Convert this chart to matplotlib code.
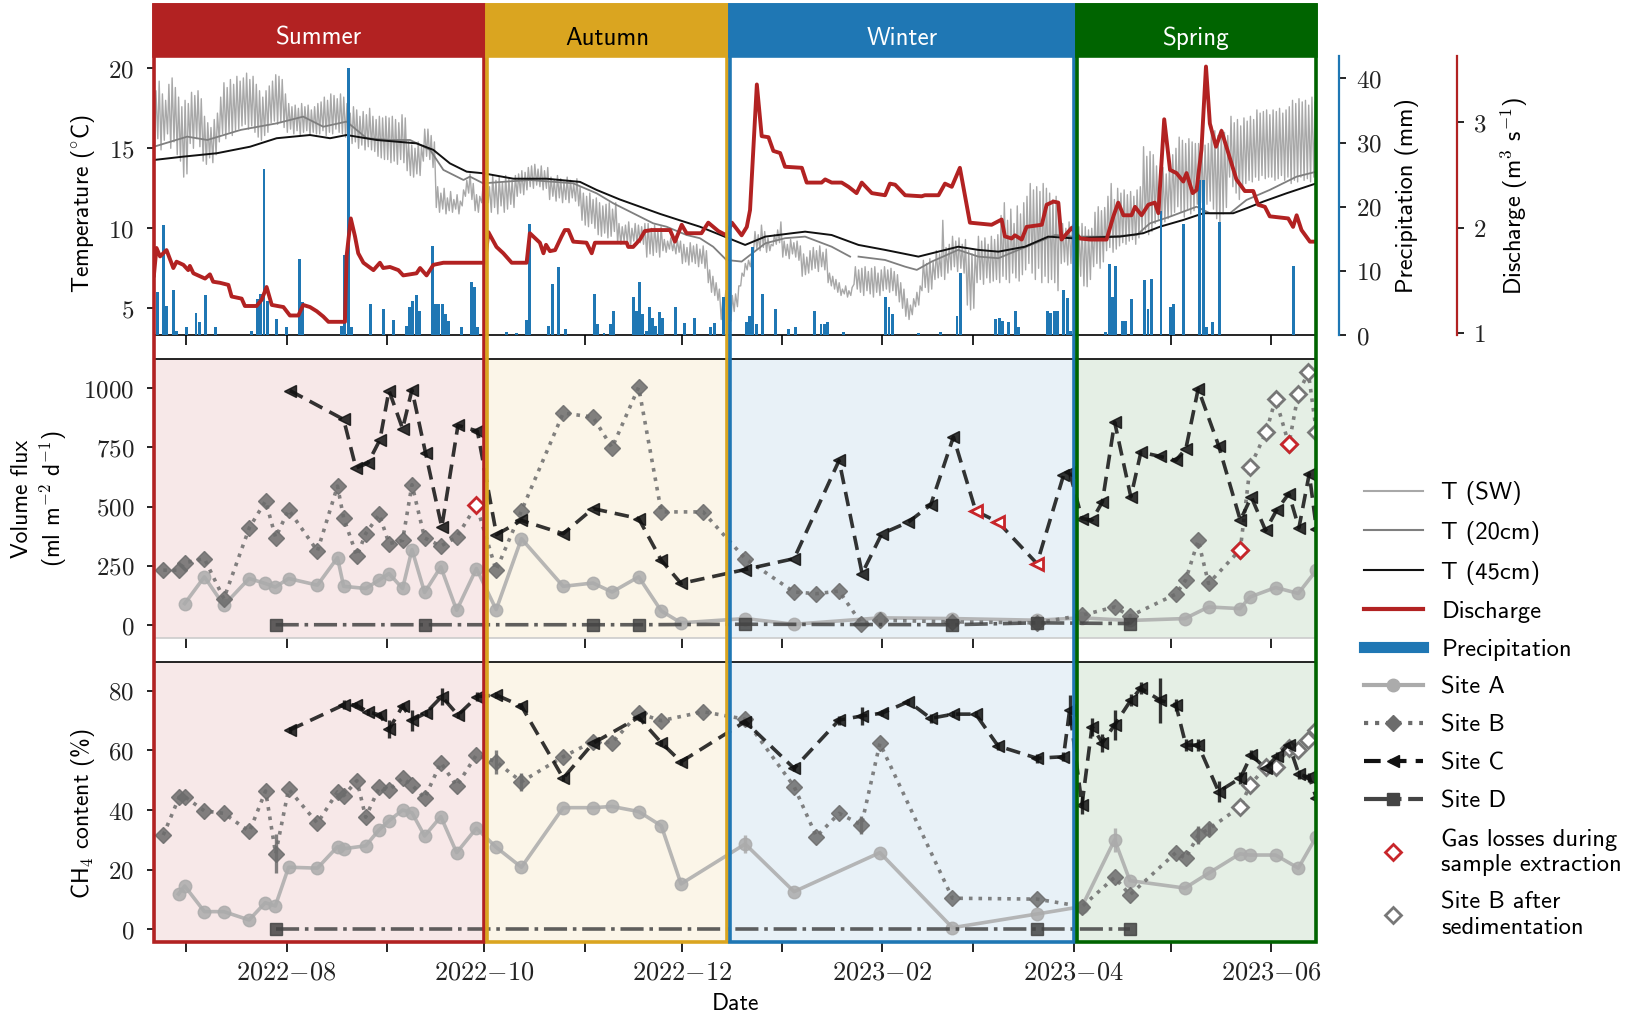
import numpy as np
import pandas as pd
import matplotlib
matplotlib.use("Agg")
import matplotlib.pyplot as plt
import matplotlib.dates as mdates
from matplotlib.lines import Line2D
from matplotlib.patches import Rectangle
from matplotlib.ticker import FuncFormatter

plt.rcParams['font.family'] = ['cmss10', 'DejaVu Sans']
plt.rcParams['mathtext.fontset'] = 'cm'
plt.rcParams['axes.unicode_minus'] = False

# ---------------- data (days are counted from 2022-08-01) ----------------
t0 = pd.Timestamp('2022-08-01')

seasons = ['Summer', 'Autumn', 'Winter', 'Spring']
season_start = [-41, 62, 137, 244]
season_end = [61, 136, 243, 318]
season_colors = ['#b22222', '#daa520', '#1f77b4', '#006400']
season_text = ['white', 'black', 'white', 'white']

# surface water temperature, daily max / min from 2022-06-21
tsw_max = [
    18.6, 19.2, 18.4, 18.0, 19.0, 19.4, 18.8, 18.2, 17.6, 18.0,
    # Jul
    17.8, 18.5, 18.3, 18.6, 18.1, 17.0, 16.6, 16.3, 16.8, 17.2,
    18.2, 19.1, 18.8, 19.3, 19.0, 19.5, 19.2, 19.4, 19.7, 19.3,
    19.5, 19.0, 18.6, 18.2, 18.6, 18.9, 19.2, 19.6, 19.5, 19.3, 18.4,
    # Aug
    17.8, 17.6, 17.7, 17.5, 17.8, 17.6, 17.7, 17.4, 17.6, 17.8,
    17.9, 18.2, 18.0, 18.4, 18.3, 18.1, 18.4, 18.2, 17.8, 17.2,
    17.6, 17.4, 17.0, 17.3, 17.1, 17.5, 17.0, 16.8, 17.0, 16.9, 17.0,
    # Sep
    16.9, 17.0, 16.8, 16.6, 17.1, 16.9, 15.4, 15.2, 15.0, 15.4,
    15.1, 16.2, 16.2, 15.8, 15.4, 12.6, 12.2, 12.5, 11.9, 12.3,
    11.8, 12.1, 11.7, 12.4, 13.0, 13.4, 12.8, 12.1, 12.0, 12.6,
    # Oct
    12.8, 12.6, 13.3, 13.0, 13.2, 12.9, 13.3, 13.1, 13.0, 13.3,
    13.4, 13.6, 13.5, 13.8, 13.9, 14.0, 13.7, 13.9, 13.6, 13.8,
    13.2, 13.0, 13.3, 13.1, 12.9, 13.2, 13.0, 12.8, 13.1, 12.6, 12.2,
    # Nov
    12.0, 12.2, 11.8, 11.9, 11.6, 11.4, 11.5, 11.6, 11.2, 11.6,
    10.3, 10.1, 10.2, 10.4, 10.0, 10.3, 10.2, 10.1, 10.3, 10.3,
    10.0, 10.2, 9.9, 10.1, 9.3, 9.2, 9.4, 9.1, 9.3, 9.2,
    # Dec
    9.0, 8.8, 9.1, 8.9, 9.0, 8.7, 8.9, 8.6, 7.4, 7.0,
    6.6, 6.2, 5.4, 6.1, 6.0, 5.8, 5.9, 6.4, 7.2, 7.8,
    8.0, 8.2, 9.8, 9.6, 10.2, 9.8, 9.4, 9.0, 9.6, 9.9, 10.4,
    # Jan
    9.2, 9.0, 9.3, 9.1, 9.2, 8.9, 8.4, 8.2, 8.6, 8.8,
    8.6, 8.9, 8.5, 8.7, 7.2, 7.0, 6.8, 6.6, 6.2, 6.4,
    6.1, 6.3, 7.6, 7.4, 7.5, 7.6, 7.3, 7.5, 7.6, 7.2, 7.4,
    # Feb
    7.6, 7.4, 7.5, 7.3, 7.1, 6.6, 6.2, 5.6, 5.2, 5.6,
    6.0, 6.4, 8.0, 7.8, 8.1, 7.9, 8.6, 8.4, 10.5, 8.8,
    9.0, 9.5, 9.2, 9.4, 9.0, 9.3, 8.6, 8.4,
    # Mar
    8.6, 9.5, 9.2, 9.4, 9.0, 9.5, 9.3, 9.6, 10.8, 11.6,
    10.5, 11.2, 10.3, 11.4, 10.9, 11.6, 12.0, 12.8, 12.4, 12.6,
    12.3, 12.8, 12.5, 12.2, 11.8, 12.0, 11.6, 10.3, 10.0, 10.4, 10.2,
    # Apr
    10.4, 10.1, 10.3, 10.1, 9.9, 10.0, 11.0, 11.35, 11.1, 11.3,
    12.0, 12.8, 11.8, 12.5, 12.2, 12.4, 12.1, 12.3, 12.0, 12.4,
    12.6, 15.1, 14.5, 14.8, 14.6, 13.9, 13.6, 13.8, 13.4, 13.9,
    # May
    14.6, 15.0, 15.7, 15.5, 15.3, 15.6, 15.4, 15.3, 15.3, 15.0,
    15.2, 15.3, 16.4, 16.1, 15.8, 16.2, 16.0, 15.8, 17.0, 16.6,
    16.8, 16.4, 16.9, 16.7, 17.0, 16.8, 17.4, 17.2, 17.3, 17.4, 17.1,
    # Jun
    17.4, 17.3, 17.5, 17.2, 17.4, 17.6, 18.0, 17.8, 18.1, 17.9,
    18.0, 17.7, 18.2, 17.9, 18.0,
]
tsw_min = [
    15.2, 15.6, 14.9, 15.5, 15.9, 15.0, 15.4, 14.6, 14.2, 13.2,
    # Jul
    13.4, 15.3, 15.0, 15.6, 15.1, 14.2, 14.0, 14.4, 14.1, 14.6,
    15.4, 15.9, 15.6, 16.0, 15.8, 16.1, 16.2, 16.4, 16.5, 16.2,
    16.4, 16.0, 15.7, 15.5, 15.8, 16.0, 16.6, 16.7, 16.5, 16.6, 16.3,
    # Aug
    16.0, 16.2, 15.9, 16.1, 15.8, 16.0, 16.1, 15.8, 16.0, 15.9,
    15.9, 16.1, 15.8, 16.0, 15.9, 16.2, 16.0, 15.9, 15.7, 15.6,
    15.3, 15.4, 15.0, 15.2, 14.9, 15.1, 14.9, 14.8, 14.5, 14.4, 14.3,
    # Sep
    14.3, 14.1, 14.2, 14.0, 14.3, 14.1, 13.6, 13.3, 13.2, 13.4,
    13.3, 14.2, 14.5, 14.3, 13.8, 11.3, 11.0, 11.2, 10.9, 11.1,
    11.0, 11.2, 10.9, 11.4, 12.0, 12.2, 11.8, 11.1, 11.0, 11.6,
    # Oct
    11.8, 11.6, 11.0, 11.3, 10.9, 11.4, 11.0, 11.2, 11.5, 11.3,
    12.0, 12.2, 12.1, 12.4, 12.6, 12.5, 12.7, 12.6, 12.4, 12.5,
    11.8, 12.0, 11.7, 11.9, 11.6, 11.8, 11.6, 11.9, 11.7, 11.4, 10.5,
    # Nov
    10.2, 10.1, 10.3, 10.0, 9.6, 9.5, 9.7, 9.4, 9.5, 9.8,
    9.1, 9.0, 9.2, 9.1, 8.9, 9.2, 9.0, 9.1, 9.0, 8.2,
    8.4, 8.3, 8.5, 8.2, 8.6, 8.5, 8.7, 8.6, 8.4, 8.5,
    # Dec
    7.8, 7.9, 7.7, 7.9, 7.8, 7.6, 7.8, 7.5, 6.6, 6.0,
    5.8, 5.5, 4.3, 5.1, 4.6, 4.2, 4.8, 5.1, 6.4, 7.0,
    7.4, 7.6, 8.6, 8.7, 8.6, 8.8, 8.5, 8.6, 8.9, 9.0, 9.1,
    # Jan
    8.2, 8.3, 8.1, 8.4, 8.2, 8.0, 7.0, 7.1, 7.2, 7.4,
    7.5, 7.3, 7.6, 7.4, 6.6, 6.4, 6.2, 6.0, 5.8, 5.9,
    5.7, 5.8, 6.5, 6.2, 6.0, 5.8, 6.1, 5.9, 5.7, 6.0, 5.8,
    # Feb
    6.1, 6.2, 6.0, 6.1, 5.8, 5.4, 5.0, 4.5, 4.3, 4.6,
    5.1, 5.2, 6.1, 6.3, 6.0, 6.2, 6.8, 6.9, 7.0, 6.8,
    7.2, 7.4, 7.6, 7.3, 7.5, 7.2, 5.2, 4.9,
    # Mar
    5.0, 6.6, 6.8, 6.5, 6.9, 6.6, 6.7, 6.8, 6.6, 7.0,
    6.8, 6.6, 7.2, 6.9, 6.7, 7.1, 7.4, 7.8, 7.2, 6.8,
    7.5, 6.6, 7.0, 6.6, 6.8, 6.6, 6.1, 7.8, 7.9, 7.7, 7.8,
    # Apr
    7.8, 7.6, 7.0, 6.4, 6.35, 6.8, 7.6, 7.8, 7.5, 7.9,
    8.6, 8.8, 8.5, 8.7, 8.9, 9.1, 9.0, 9.2, 9.3, 9.0,
    9.4, 9.7, 9.9, 9.6, 9.8, 10.3, 10.5, 10.2, 10.4, 10.6,
    # May
    10.8, 11.0, 11.35, 11.0, 10.7, 11.2, 10.9, 11.1, 11.5, 11.6,
    11.4, 11.5, 11.7, 11.2, 10.6, 10.3, 10.9, 11.3, 13.2, 12.6,
    12.2, 11.8, 12.5, 12.8, 13.0, 12.9, 13.2, 13.0, 13.3, 13.1, 13.2,
    # Jun
    13.2, 13.0, 13.1, 13.3, 13.0, 13.2, 12.8, 13.0, 12.9, 13.2,
    13.0, 13.1, 12.9, 13.2, 13.0,
]

t20_day = [-41, -30.7, -24.5, -14.2, -3.1, 5.1, 11.3, 18.5, 24.7, 31.9, 38.1, 44.3, 48.4,
           54.6, 56.6, 60.7, 67.9, 75.1, 88.5, 95.7, 100.9, 107, 113.2, 117.3, 123.5, 127.6,
           131.7, 135.8, 140.5, 147.8, 153.9, 160.1, 168.3, 174, 175.3, 176.6, 184.8, 191,
           194.6, 199.2, 207.4, 213.6, 219.8, 226, 231.1, 237.3, 242.4, 252.2, 262.5, 266.6,
           272.8, 281, 285.1, 291.3, 296.4, 303.6, 311.9, 318]
t20_val = [15.1, 15.73, 15.52, 16.15, 16.56, 16.98, 16.35, 16.67, 15.63, 15.52, 15.52, 14.9, 13.65,
           13.02, 13.23, 12.81, 12.92, 13.02, 12.81, 12.19, 11.56, 10.94, 10.31, 10.1, 9.58, 9.38,
           8.85, 8.02, 7.92, 9.06, 9.38, 9.48, 8.85, 8.23, np.nan, 8.23, 8.02, 7.6,
           7.4, 7.92, 8.65, 8.23, 8.13, 8.65, 9.06, 9.58, 9.48, 9.48, 9.58, 10.31,
           10.73, 11.35, 10.94, 10.94, 11.77, 12.4, 13.23, 13.54]

t45_day = [-41, -31.9, -21.6, -11.3, -3.1, 7.2, 13.4, 18.5, 27.8, 40.1, 45.3, 50.4, 55.6, 60.7,
           70, 80.3, 90.6, 95.7, 102.9, 109.1, 115.3, 121.4, 127.6, 135.6, 141.6, 147.8, 156,
           160.1, 168.3, 176.6, 184.8, 195.1, 207.4, 213.6, 219.8, 228, 235.2, 242.4, 257.3,
           264.5, 269.7, 276.9, 283.1, 292.3, 296.4, 301.6, 308.8, 318]
t45_val = [14.27, 14.48, 14.69, 15.1, 15.63, 15.83, 15.63, 15.83, 15.52, 15.31, 14.9, 14.06, 13.54, 13.44,
           13.1, 13.1, 12.9, 12.4, 11.8, 11.35, 10.9, 10.5, 10.1, 9.45, 8.96, 9.48, 9.69,
           9.79, 9.58, 8.96, 8.65, 8.23, 8.85, 8.65, 8.54, 8.85, 9.48, 9.38, 9.48,
           9.69, 10.1, 10.52, 10.94, 10.94, 11.25, 11.67, 12.19, 12.81]

p_day = [-40, -38, -37, -35, -34, -31, -28, -27, -25, -22, -11, -9, -8, -7, -6, -3, 0, 4, 5, 17,
         18, 19, 20, 26, 30, 33, 37, 38, 39, 40, 41, 45, 46, 47, 48, 49, 50, 54, 57, 58, 59,
         68, 71, 74, 75, 81, 82, 84, 86, 95, 96, 98, 100, 101, 107, 108, 109, 110, 111, 112,
         113, 114, 115, 116, 120, 123, 126, 131, 132, 135,
         142, 143, 144, 145, 147, 151, 155, 157, 163, 165, 166, 167, 172, 185, 186, 187, 195,
         202, 207, 208, 219, 220, 221, 223, 225, 226, 235, 236, 237, 238, 240, 241, 242,
         253, 254, 255, 256, 258, 259, 261, 265, 266, 267, 270, 273, 274, 277, 282, 283, 284,
         286, 288, 311]
p_mm = [6.7, 17.1, 4.5, 7.0, 0.7, 1.2, 3.5, 2.0, 6.2, 1.3, 0.7, 5.6, 6.4, 25.9, 5.3, 2.5, 1.3, 11.8, 5.1, 1.4,
        12.4, 41.6, 1.2, 4.8, 4.0, 2.4, 1.4, 4.3, 5.3, 6.2, 3.8, 13.9, 4.8, 4.8, 4.8, 3.3, 2.2, 1.2, 8.2, 7.5, 1.2,
        0.4, 0.3, 2.3, 17.3, 1.4, 7.9, 10.6, 0.9, 6.4, 1.7, 0.3, 1.7, 3.8, 5.9, 3.8, 8.3, 3.3, 0.7, 4.3,
        2.7, 1.4, 3.6, 2.7, 4.3, 1.9, 2.7, 1.3, 1.9, 5.9,
        2.0, 3.0, 13.7, 1.7, 6.4, 4.0, 0.9, 1.2, 3.8, 1.7, 1.7, 2.0, 0.4, 5.9, 4.3, 3.3, 0.3,
        0.4, 3.0, 9.7, 2.5, 2.7, 2.2, 2.0, 3.8, 1.2, 3.8, 3.5, 3.8, 3.8, 7.0, 5.7, 0.7,
        0.4, 11.1, 5.9, 10.8, 2.2, 2.2, 5.6, 8.5, 4.0, 8.7, 19.4, 4.3, 4.8, 17.3, 24.1, 24.1, 1.3,
        2.1, 17.6, 10.7]

q_day = [-41, -40.2, -39.1, -38.1, -37.1, -35.0, -34.0, -31.9, -30.4, -29.9, -28.8, -25.2, -23.7, -22.7,
         -20.6, -18.0, -17.0, -13.9, -12.9, -9.3, -7.7, -6.2, -4.6, -1.0, 1.0, 3.6, 5.1, 7.2, 9.3, 11.3,
         12.9, 18.0, 18.5, 19.8, 21.1, 22.1, 23.7, 26.8, 28.8, 29.8, 31.9, 34.5, 36.0, 40.1, 41.2, 43.2,
         45.3, 48.4, 49.4, 60.7,
         61.2, 62.3, 64.8, 66.9, 69.5, 74.1, 75.1, 78.2, 79.3, 80.1, 81.3, 82.9, 84.9, 85.9, 87.0, 88.5,
         92.6, 94.2, 95.2, 105.0, 105.5, 107.0, 109.1, 110.6, 112.7, 118.4, 119.9, 122.0, 123.5, 128.1,
         130.2, 133.3, 135.8,
         137.5, 140.5, 142.1, 143.1, 145.2, 146.7, 148.8, 150.3, 152.4, 153.9, 159.1, 160.6, 165.2, 166.3,
         168.3, 171.4, 173.5, 176.0, 177.6, 180.7, 184.8, 186.3, 187.9, 191.0, 196.1, 197.1, 201.3, 203.3,
         205.4, 207.9, 211.0, 217.7, 220.8, 221.8, 223.9, 224.9, 227.0, 228.5, 233.2, 234.7, 236.8, 238.3,
         239.3, 242.4,
         245.0, 248.1, 253.2, 255.3, 256.8, 258.4, 260.9, 262.0, 264.0, 266.1, 268.1, 269.2, 271.0, 272.8,
         274.8, 276.9, 277.9, 279.8, 281.0, 282.5, 283.9, 285.1, 287.0, 288.7, 290.8, 293.3, 295.9, 298.5,
         300.0, 302.1, 303.6, 309.3, 310.8, 311.9, 313.4, 316.0, 318.1]
q_val = [1.55, 1.81, 1.73, 1.76, 1.79, 1.62, 1.68, 1.65, 1.60, 1.64, 1.57, 1.52, 1.56, 1.49,
         1.48, 1.46, 1.35, 1.33, 1.26, 1.26, 1.32, 1.44, 1.27, 1.25, 1.17, 1.17, 1.27, 1.25, 1.21, 1.16,
         1.11, 1.11, 1.73, 2.09, 1.92, 1.76, 1.67, 1.60, 1.67, 1.62, 1.63, 1.60, 1.55, 1.57, 1.62, 1.55,
         1.65, 1.67, 1.67, 1.67,
         1.67, 1.96, 1.82, 1.76, 1.67, 1.67, 1.95, 1.86, 1.76, 1.84, 1.78, 1.79, 1.92, 1.98, 1.98, 1.87,
         1.86, 1.76, 1.86, 1.86, 1.82, 1.82, 1.89, 1.97, 1.98, 1.98, 1.87, 2.03, 1.95, 1.95,
         2.05, 1.97, 1.93,
         2.05, 1.93, 2.01, 2.17, 3.36, 2.87, 2.86, 2.73, 2.71, 2.58, 2.57, 2.43, 2.43, 2.46,
         2.43, 2.43, 2.39, 2.33, 2.43, 2.33, 2.31, 2.42, 2.41, 2.31, 2.30, 2.31, 2.31, 2.42,
         2.39, 2.57, 2.05, 2.03, 2.08, 1.92, 1.90, 1.93, 1.89, 2.01, 2.03, 2.22, 2.25, 2.24,
         1.89, 2.00,
         1.90, 1.89, 1.89, 2.11, 2.24, 2.12, 2.12, 2.20, 2.12, 2.22, 2.24, 2.14, 3.03, 2.55,
         2.52, 2.44, 2.52, 2.33, 2.36, 2.74, 3.53, 2.99, 2.77, 2.92, 2.71, 2.46, 2.35, 2.35,
         2.22, 2.20, 2.11, 2.09, 2.01, 2.12, 1.98, 1.87, 1.87]

# Site A
a_day = [-33.4, -31.5, -25.4, -19.4, -11.6, -6.6, -3.5, 0.6, 9.5, 15.7, 17.6, 24.4, 28.5, 31.6, 35.8,
         38.7, 42.6, 47.6, 52.5, 58.6, 64.7, 72.5, 85.4, 94.6, 100.5, 108.7, 115.7, 121.8, 141.6,
         156.7, 183.2, 205.6, 231.7, 245.6, 255.7, 260.4, 277.4, 284.7, 294.4, 297.5, 305.4, 312.4, 318.0]
a_flux = [np.nan, 91, 204, 84, 197, 176, 161, 197, 169, 285, 164, 155, 190, 218, 155,
          319, 138, 246, 63, 239, 66, 365, 164, 178, 140, 204, 60, 10, 28,
          4, 31, 28, 21, 31, np.nan, 20, 28, 77, 70, 119, 159, 134, 232]
a_ch4 = [11.8, 14.5, 5.9, 5.9, 3.1, 8.9, 7.8, 20.8, 20.5, 27.7, 27.0, 28.0, 33.3, 36.4, 40.0,
         39.1, 31.3, 37.8, 25.7, 33.9, 27.5, 20.8, 40.8, 40.8, 41.2, 39.5, 34.7, 15.2, 28.6,
         12.6, 25.7, 0.5, 5.1, 7.6, 30.0, 16.3, 13.8, 18.8, 25.3, 24.9, 24.9, 20.5, 31.1]
a_ch4_err = [0, 0, 0, 0, 0, 0, 0, 0, 0, 0, 0, 0, 0, 0, 0,
             0, 0, 0, 0, 0, 0, 0, 0, 0, 0, 0, 0, 0, 3,
             0, 0, 0, 0, 0, 4, 0, 0, 0, 0, 0, 0, 0, 0]

# Site B
b_day = [-38.1, -33.2, -31.5, -25.4, -19.4, -11.5, -6.5, -3.4, 0.6, 9.5, 15.7, 17.6, 21.7, 24.4, 28.6,
         31.6, 35.8, 38.7, 42.6, 47.6, 52.5, 58.6, 64.7, 72.5, 85.4, 94.6, 100.5, 108.7, 115.7, 128.6,
         141.6, 156.7, 163.6, 170.6, 177.5, 183.2, 205.6, 231.7, 245.6, 255.7, 260.4, 274.6, 277.6,
         281.5, 284.7]
b_flux = [232, 232, 263, 281, 112, 412, 524, 370, 487, 313, 587, 452, 292, 386, 468,
          344, 358, 593, 368, 334, 372, 506, 232, 482, 895, 878, 749, 1004, 478, 478,
          281, 140, 133, 144, 7, 21, 14, 10, 42, 77, 38, 131, 190, 358, 176]
b_ch4 = [31.6, 44.3, 44.5, 39.7, 38.9, 32.8, 46.4, 25.3, 47.0, 35.6, 46.1, 44.8, 49.9, 37.6, 47.6,
         46.7, 50.7, 48.4, 44.0, 55.9, 48.1, 58.5, 56.2, 49.5, 57.9, 63.0, 62.6, 72.5, 70.0, 73.0,
         70.5, 47.9, 31.1, 38.9, 35.0, 62.4, 10.4, 10.1, 7.6, 17.4, 11.5, 25.7, 23.8, 31.6, 33.6]
b_ch4_err = [0, 0, 0, 0, 0, 0, 0, 6.5, 0, 0, 0, 0, 0, 0, 0,
             0, 0, 0, 0, 0, 0, 0, 4, 3, 0, 0, 0, 0, 0, 0,
             0, 0, 0, 0, 3, 0, 0, 0, 0, 0, 0, 0, 0, 3, 2]

# Site B after sedimentation
bs_day = [294.5, 297.5, 302.5, 305.4, 309.5, 312.4, 315.5, 318.0]
bs_flux = [319, 667, 815, 955, 763, 976, 1067, 815]
bs_ch4 = [41.1, 48.4, 54.6, 54.6, 60.7, 60.0, 63.5, 66.9]

# Site C
c_day = [1.0, 17.6, 21.4, 25.1, 28.8, 31.6, 35.8, 38.7, 42.9, 47.9, 52.9, 58.9, 64.8, 72.5, 85.4,
         94.6, 108.7, 115.7, 121.8, 141.6, 156.7, 170.6, 177.7, 183.8, 192.0, 198.9, 205.9, 212.8,
         219.7, 231.7, 239.9, 241.8, 245.6, 248.7, 251.9, 255.7, 260.7, 263.8, 269.8, 274.6, 277.7,
         281.5, 287.8, 294.5, 297.9, 302.3, 305.7, 309.5, 312.6, 315.8, 318.0]
c_flux = [990, 868, 663, 684, 782, 990, 829, 993, 726, 414, 843, 819, 382, 442, 386,
          492, 450, 274, 176, 235, 281, 695, 218, 386, 435, 508, 794, 482,
          435, 260, 632, 645, 450, 443, 520, 857, 541, 730, 712, 695, 745,
          997, 758, 443, 541, 400, 485, 555, 410, 639, 407]
c_ch4 = [66.9, 75.3, 75.3, 73.0, 71.9, 67.1, 74.9, 70.2, 72.5, 78.1, 71.9, 78.1, 78.6, 74.9, 50.7,
         62.4, 71.1, 62.6, 56.2, 69.7, 54.0, 70.2, 71.6, 72.5, 76.4, 70.8, 72.2, 72.2,
         61.5, 57.4, 57.9, 73.6, 41.7, 68.0, 62.6, 68.6, 76.9, 80.9, 76.8, 75.3, 61.8,
         61.8, 46.2, 50.7, 58.5, 54.0, 58.0, 62.0, 52.0, 51.0, 44.0]
c_ch4_err = [1, 1.5, 1, 1, 1, 3, 1, 3.5, 1, 3, 1, 1.5, 1, 1, 1,
             1, 1, 1, 1, 1, 1, 1.5, 3, 1, 1, 1.5, 1, 1,
             1.5, 1.5, 1.5, 5, 3, 3, 3, 5, 2, 2, 7.5, 2, 2,
             2, 3.5, 2, 1.5, 1.5, 1.5, 1.5, 1.5, 1.5, 1.5]

# Site D
d_day = [-3.4, 42.6, 94.6, 108.7, 141.6, 205.6, 231.7, 260.3]
d_flux = [2, 2, 2, 2, 4, 2, 10, 7]
dch4_day = [-3.4, 231.7, 260.3]
d_ch4 = [0, 0, 0]

# gas losses during sample extraction
gas_b_day = [58.6, 294.5, 309.5]
gas_b_flux = [506, 319, 763]
gas_c_day = [212.8, 219.7, 231.7]
gas_c_flux = [482, 435, 260]


def to_date(days):
    if np.isscalar(days):
        return t0 + pd.Timedelta(days=float(days))
    return t0 + pd.to_timedelta(np.asarray(days, dtype=float), unit='D')


# ---------------- figure ----------------
fig = plt.figure(figsize=(16.26, 10.18), dpi=100)
L, W = 0.09465, 0.71494
ax_t = fig.add_axes([L, 0.67092, W, 0.27407])
ax_f = fig.add_axes([L, 0.37328, W, 0.27358], sharex=ax_t)
ax_c = fig.add_axes([L, 0.07436, W, 0.27505], sharex=ax_t)

xmin, xmax = -41, 318
ax_t.set_xlim(to_date(xmin), to_date(xmax))

c_tsw, c_t20, c_t45 = '#a8a8a8', '#7f7f7f', '#111111'
c_q, c_p = '#b22222', '#1f77b4'
c_a, c_b, c_c, c_d = '#ababab', '#6c6c6c', '#111111', '#444444'
c_gas = '#c8262b'

# top panel: temperatures
tsw_dates = pd.date_range('2022-06-21', periods=len(tsw_max), freq='D')
tsw_time, tsw_val = [], []
for d, lo, hi in zip(tsw_dates, tsw_min, tsw_max):
    tsw_time += [d + pd.Timedelta(hours=5), d + pd.Timedelta(hours=15)]
    tsw_val += [lo, hi]
ax_t.plot(tsw_time, tsw_val, color=c_tsw, lw=1.0)
ax_t.plot(to_date(t20_day), t20_val, color=c_t20, lw=1.3)
ax_t.plot(to_date(t45_day), t45_val, color=c_t45, lw=1.4)
ax_t.set_ylim(3.33, 20.77)
ax_t.set_yticks([5, 10, 15, 20])

ax_p = ax_t.twinx()
ax_p.bar(to_date(p_day), p_mm, width=0.9, color=c_p)
ax_p.set_ylim(0, 43.5)
ax_p.set_yticks([0, 10, 20, 30, 40])

ax_q = ax_t.twinx()
ax_q.plot(to_date(q_day), q_val, color=c_q, lw=2.8)
ax_q.set_ylim(0.985, 3.63)
ax_q.set_yticks([1, 2, 3])

for ax, off, col in ((ax_p, 16.6, c_p), (ax_q, 101, c_q)):
    for s in ('left', 'top', 'bottom'):
        ax.spines[s].set_visible(False)
    ax.spines['right'].set_position(('outward', off))
    ax.spines['right'].set_color(col)
    ax.spines['right'].set_linewidth(1.6)

# season shading
for ax in (ax_f, ax_c):
    for s, e, col in zip(season_start, season_end, season_colors):
        ax.axvspan(to_date(s), to_date(e), color=col, alpha=0.1, lw=0, zorder=0)

# middle panel: volume flux
ax_f.plot(to_date(np.array(a_day)[~np.isnan(a_flux)]), np.array(a_flux)[~np.isnan(a_flux)],
          color=c_a, lw=2.6, marker='o', ms=9, alpha=0.85)
ax_f.plot(to_date(b_day + bs_day), b_flux + bs_flux, color=c_b, lw=2.6, ls=':', alpha=0.85)
ax_f.plot(to_date(b_day), b_flux, ls='none', marker='D', ms=8.5, color=c_b, alpha=0.85)
ax_f.plot(to_date(bs_day), bs_flux, ls='none', marker='D', ms=8.5, mfc='white', mec='#777777', mew=2)
ax_f.plot(to_date(c_day), c_flux, color=c_c, lw=2.6, ls=(0, (4, 2.2)), marker='<', ms=9, alpha=0.85)
ax_f.plot(to_date(d_day), d_flux, color=c_d, lw=2.6, ls='-.', marker='s', ms=8, alpha=0.85)
ax_f.plot(to_date(gas_b_day), gas_b_flux, ls='none', marker='D', ms=8.5, mfc='white', mec=c_gas, mew=2)
ax_f.plot(to_date(gas_c_day), gas_c_flux, ls='none', marker='<', ms=9, mfc='white', mec=c_gas, mew=2)
ax_f.set_ylim(-54, 1121)
ax_f.set_yticks([0, 250, 500, 750, 1000])

# bottom panel: CH4 content
ax_c.errorbar(to_date(a_day), a_ch4, yerr=a_ch4_err, fmt='none', ecolor=c_a, elinewidth=2.4, alpha=0.85)
ax_c.errorbar(to_date(b_day), b_ch4, yerr=b_ch4_err, fmt='none', ecolor=c_b, elinewidth=2.4, alpha=0.85)
ax_c.errorbar(to_date(c_day), c_ch4, yerr=c_ch4_err, fmt='none', ecolor=c_c, elinewidth=2.4, alpha=0.85)
ax_c.plot(to_date(a_day), a_ch4, color=c_a, lw=2.6, marker='o', ms=9, alpha=0.85)
ax_c.plot(to_date(b_day + bs_day), b_ch4 + bs_ch4, color=c_b, lw=2.6, ls=':', alpha=0.85)
ax_c.plot(to_date(b_day), b_ch4, ls='none', marker='D', ms=8.5, color=c_b, alpha=0.85)
ax_c.plot(to_date(bs_day), bs_ch4, ls='none', marker='D', ms=8.5, mfc='white', mec='#777777', mew=2)
ax_c.plot(to_date(c_day), c_ch4, color=c_c, lw=2.6, ls=(0, (4, 2.2)), marker='<', ms=9, alpha=0.85)
ax_c.plot(to_date(dch4_day), d_ch4, color=c_d, lw=2.6, ls='-.', marker='s', ms=8, alpha=0.85)
ax_c.set_ylim(-4.4, 89.6)
ax_c.set_yticks([0, 20, 40, 60, 80])

# ticks
math_num = FuncFormatter(lambda v, pos: '$%g$' % v)
math_date = FuncFormatter(lambda v, pos: '$' + mdates.num2date(v).strftime('%Y{-}%m') + '$')
ax_c.xaxis.set_major_locator(mdates.MonthLocator(bymonth=[2, 4, 6, 8, 10, 12]))
ax_c.xaxis.set_minor_locator(mdates.MonthLocator())
ax_c.xaxis.set_major_formatter(math_date)
for ax in (ax_t, ax_f, ax_c):
    ax.tick_params(axis='x', which='both', direction='out', length=7, width=1.2,
                   labelsize=19, pad=7, labelcolor='#222222')
    ax.tick_params(axis='y', direction='out', length=5, width=1.2, labelsize=18,
                   pad=9, labelcolor='#222222')
    ax.yaxis.set_major_formatter(math_num)
    ax.spines['top'].set_linewidth(1.2)
    ax.spines['bottom'].set_linewidth(1.2)
for ax in (ax_p, ax_q):
    ax.tick_params(axis='y', direction='out', length=5, width=1.2, labelsize=18,
                   pad=7, labelcolor='#222222')
    ax.yaxis.set_major_formatter(math_num)
ax_t.tick_params(axis='x', labelbottom=False)
ax_f.tick_params(axis='x', labelbottom=False)
ax_f.spines['bottom'].set_color('#cccccc')

# labels
ax_t.set_ylabel('Temperature ($^{\\circ}$C)', fontsize=17, va='center')
ax_f.set_ylabel('Volume flux\n(ml m$^{-2}$ d$^{-1}$)', fontsize=17, va='center')
ax_c.set_ylabel('CH$_4$ content (%)', fontsize=17, va='center')
ax_p.set_ylabel('Precipitation (mm)', fontsize=17.5, va='center')
ax_q.set_ylabel('Discharge (m$^3$ s$^{-1}$)', fontsize=17.5, va='center')
ax_c.set_xlabel('Date', fontsize=17, va='center')
ax_t.yaxis.set_label_coords(-0.061, 0.47)
ax_f.yaxis.set_label_coords(-0.098, 0.5)
ax_c.yaxis.set_label_coords(-0.061, 0.46)
ax_p.yaxis.set_label_coords(1.078, 0.5)
ax_q.yaxis.set_label_coords(1.170, 0.5)
ax_c.xaxis.set_label_coords(0.5, -0.22)

# season headers and outlines
def fx(d):
    return L + (d - xmin) / (xmax - xmin) * W

hdr_bot, hdr_top, out_bot = 0.94499, 0.99509, 0.07436
for name, s, e, col, tc in zip(seasons, season_start, season_end, season_colors, season_text):
    fig.add_artist(Rectangle((fx(s), out_bot), fx(e) - fx(s), hdr_top - out_bot,
                             transform=fig.transFigure, fill=False, edgecolor=col, lw=2.6, zorder=10))
    fig.add_artist(Rectangle((fx(s), hdr_bot), fx(e) - fx(s), hdr_top - hdr_bot,
                             transform=fig.transFigure, facecolor=col, edgecolor=col, lw=2.6, zorder=10))
    fig.text((fx(s) + fx(e)) / 2, 0.9625, name, ha='center', va='center',
             color=tc, fontsize=18, zorder=11)

# legend
handles = [
    Line2D([], [], color=c_tsw, lw=1.5),
    Line2D([], [], color=c_t20, lw=1.5),
    Line2D([], [], color=c_t45, lw=1.5),
    Line2D([], [], color=c_q, lw=3),
    Line2D([], [], color=c_p, lw=8),
    Line2D([], [], color=c_a, lw=3, marker='o', ms=9),
    Line2D([], [], color=c_b, lw=3, ls=':', marker='D', ms=8.5),
    Line2D([], [], color=c_c, lw=3, ls=(0, (4, 2.2)), marker='<', ms=9),
    Line2D([], [], color=c_d, lw=3, ls='-.', marker='s', ms=8),
    Line2D([], [], ls='none', marker='D', ms=8.5, mfc='white', mec=c_gas, mew=2),
    Line2D([], [], ls='none', marker='D', ms=8.5, mfc='white', mec='#777777', mew=2),
]
labels = ['T (SW)', 'T (20cm)', 'T (45cm)', 'Discharge', 'Precipitation', 'Site A', 'Site B',
          'Site C', 'Site D', 'Gas losses during\nsample extraction', 'Site B after\nsedimentation']
fig.legend(handles, labels, loc='upper left', bbox_to_anchor=(0.8387, 0.5272), frameon=False,
           fontsize=17.7, handlelength=2.4, handletextpad=0.76, labelspacing=0.64,
           borderpad=0, borderaxespad=0)

fig.savefig('out.png', dpi=100)
